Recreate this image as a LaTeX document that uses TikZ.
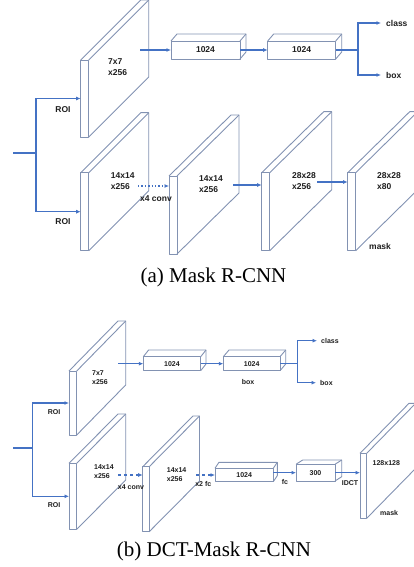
\documentclass[tikz,border=0pt]{standalone}
\usepackage{fontspec}
\setmainfont{Liberation Serif}
\setsansfont{Liberation Sans}
\usepackage{tikz}
\usetikzlibrary{positioning,arrows.meta,calc}
\definecolor{platecolor}{RGB}{130,146,178}
\definecolor{flowcolor}{RGB}{68,114,196}
\definecolor{labelcolor}{RGB}{30,30,30}
\tikzset{
  plate line/.style={
    draw=platecolor,
    line width=0.9pt,
    line join=round
  },
  slab/.style={
    rectangle,
    plate line,
    inner sep=0pt,
    outer sep=0pt,
    anchor=north west
  },
  fc box/.style={
    slab,
    text=labelcolor,
    font=\sffamily\bfseries\fontsize{8.5}{10}\selectfont
  },
  fc box small/.style={
    fc box,
    font=\sffamily\bfseries\fontsize{7}{9}\selectfont
  },
  lbl/.style={
    text=labelcolor,
    inner sep=0pt,
    align=left,
    font=\sffamily\bfseries\fontsize{8.5}{11}\selectfont
  },
  lbl small/.style={
    lbl,
    font=\sffamily\bfseries\fontsize{7}{9.5}\selectfont
  },
  flow/.style={
    draw=flowcolor,
    line width=1.4pt
  },
  arrow/.style={
    flow,
    -{Latex[length=4.5pt,width=4pt]}
  },
  caption/.style={
    font=\fontsize{21}{24}\selectfont
  }
}
% back faces of a slab node
\newcommand{\slabback}[3]{%
  \draw[plate line] (#1.north west) -- ++(#2,#3) -- ($(#1.north east)+(#2,#3)$)
    -- ($(#1.south east)+(#2,#3)$) -- (#1.south east);
  \draw[plate line] (#1.north east) -- ++(#2,#3);
}
\begin{document}
\begin{tikzpicture}[x=1pt, y=-1pt]
  \useasboundingbox (0,0) rectangle (414,567);
  \clip (0,0) rectangle (414,567);

  % ---------- (a) Mask R-CNN ----------
  % Plates
  \node[slab, minimum width=8, minimum height=77] (pa1) at (80.7,60) {};
  \slabback{pa1}{60}{-60}
  \node[slab, minimum width=8, minimum height=78] (pa2) at (80.7,172.7) {};
  \slabback{pa2}{60}{-60}
  \node[slab, minimum width=8, minimum height=78] (pa3) at (169,176) {};
  \slabback{pa3}{62}{-61}
  \node[slab, minimum width=8, minimum height=78] (pa4) at (261.7,172.7) {};
  \slabback{pa4}{62}{-61}
  \node[slab, minimum width=8, minimum height=78] (pa5) at (347.7,172.7) {};
  \slabback{pa5}{62}{-61}

  % Plate texts
  \node[lbl, anchor=west] (ta1) at (108,67.5) {7x7\\x256};
  \node[lbl, anchor=west] (ta2) at (110.7,181.5) {14x14\\x256};
  \node[lbl, anchor=west] (ta3) at (199,184.5) {14x14\\x256};
  \node[lbl, anchor=west] (ta4) at (292,181.5) {28x28\\x256};
  \node[lbl, anchor=west] (ta5) at (377,181.5) {28x28\\x80};
  \node[lbl, anchor=west] (maska) at (369,246) {mask};

  % FC boxes
  \node[fc box, minimum width=69, minimum height=18] (ba1) at (171,41) {1024};
  \slabback{ba1}{6}{-7}
  \node[fc box, minimum width=68, minimum height=18] (ba2) at (267.7,41) {1024};
  \slabback{ba2}{6}{-7}

  % Outputs
  \node[lbl, anchor=west, inner xsep=5pt] (cla) at (381,23) {class};
  \node[lbl, anchor=west, inner xsep=5pt] (boxa) at (381,75) {box};

  % ROI input
  \coordinate (ina) at (13,153);
  \coordinate (ja) at (36,153);
  \draw[flow] (ina) -- (ja);
  \draw[arrow] (ja) |- (pa1.west);
  \draw[arrow] (ja) |- (pa2.west);
  \node[lbl] (roia1) at (63,110) {ROI};
  \node[lbl] (roia2) at (63,222) {ROI};

  % Box head
  \coordinate (fa1) at (140,50);
  \draw[arrow] (fa1) -- (ba1.west);
  \draw[arrow] (ba1.east) -- (ba2.west);
  \coordinate (sa) at (358,50);
  \draw[flow] (ba2.east) -- (sa);
  \draw[arrow] (sa) |- (cla.west);
  \draw[arrow] (sa) |- (boxa.west);

  % Mask head
  \coordinate (da1) at (138,186);
  \draw[arrow, dotted] (da1) -- (da1 -| pa3.west);
  \node[lbl] (conva) at (156,199) {x4 conv};
  \coordinate (da2) at (233,185);
  \draw[arrow] (da2) -- (da2 -| pa4.west);
  \coordinate (da3) at (317,182);
  \draw[arrow] (da3) -- (da3 -| pa5.west);

  \node[caption] (capa) at (213.5,277) {(a) Mask R-CNN};

  % ---------- (b) DCT-Mask R-CNN ----------
  % Plates
  \node[slab, minimum width=7.7, minimum height=64] (pb1) at (69,371) {};
  \slabback{pb1}{49}{-50}
  \node[slab, minimum width=7.7, minimum height=66] (pb2) at (69,463.3) {};
  \slabback{pb2}{49}{-49.3}
  \node[slab, minimum width=6.5, minimum height=65] (pb3) at (142.7,466.7) {};
  \slabback{pb3}{50.3}{-50.7}
  \node[slab, minimum width=6.7, minimum height=65] (pb4) at (360,453.3) {};
  \slabback{pb4}{49}{-50}

  % Plate texts
  \node[lbl small, anchor=west] (tb1) at (92,377.5) {7x7\\x256};
  \node[lbl small, anchor=west] (tb2) at (94,471.7) {14x14\\x256};
  \node[lbl small, anchor=west] (tb3) at (166.7,474.7) {14x14\\x256};
  \node[lbl small, anchor=west] (tb4) at (372.5,462.7) {128x128};
  \node[lbl small, anchor=west] (maskb) at (380,512.7) {mask};

  % FC boxes
  \node[fc box small, minimum width=57.4, minimum height=14] (bb1) at (143.3,356.7) {1024};
  \slabback{bb1}{5.3}{-6.7}
  \node[fc box small, minimum width=56.7, minimum height=14] (bb2) at (223.3,356.7) {1024};
  \slabback{bb2}{5.7}{-6.7}
  \node[lbl small] (boxlb) at (248,381.7) {box};
  \node[fc box small, minimum width=58.3, minimum height=13.4] (bc1) at (215,468.3) {1024};
  \slabback{bc1}{4}{-6}
  \node[fc box small, minimum width=39, minimum height=16.7] (bc2) at (296,464.3) {300};
  \slabback{bc2}{6.7}{-4.3}

  % Outputs
  \node[lbl small, anchor=west, inner xsep=4pt] (clb) at (317,340.7) {class};
  \node[lbl small, anchor=west, inner xsep=4pt] (boxb) at (316,382.7) {box};

  % ROI input
  \coordinate (inb) at (13,448);
  \coordinate (jb) at (32.7,448);
  \draw[flow] (inb) -- (jb);
  \draw[arrow] (jb) |- (pb1.west);
  \draw[arrow] (jb) |- (pb2.west);
  \node[lbl small] (roib1) at (54,412) {ROI};
  \node[lbl small] (roib2) at (54,505) {ROI};

  % Box head
  \coordinate (fb1) at (118,363.7);
  \draw[arrow] (fb1) -- (bb1.west);
  \draw[arrow] (bb1.east) -- (bb2.west);
  \coordinate (sb) at (297.7,363.7);
  \draw[flow] (bb2.east) -- (sb);
  \draw[arrow] (sb) |- (clb.west);
  \draw[arrow] (sb) |- (boxb.west);

  % Mask head
  \coordinate (db1) at (118,475);
  \draw[arrow, dashed] (db1) -- (db1 -| pb3.west);
  \node[lbl small] (convb) at (131,487) {x4 conv};
  \coordinate (db2) at (196,475);
  \draw[arrow, dashed] (db2) -- (bc1.west);
  \node[lbl small] (fcb1) at (203.3,484) {x2 fc};
  \draw[arrow] (bc2.west -| bc1.east) -- (bc2.west);
  \node[lbl small] (fcb2) at (285,481.7) {fc};
  \draw[arrow] (bc2.east) -- (bc2.east -| pb4.west);
  \node[lbl small] (idct) at (350,483.3) {IDCT};

  \node[caption] (capb) at (214,551.7) {(b) DCT-Mask R-CNN};

\end{tikzpicture}
\end{document}
